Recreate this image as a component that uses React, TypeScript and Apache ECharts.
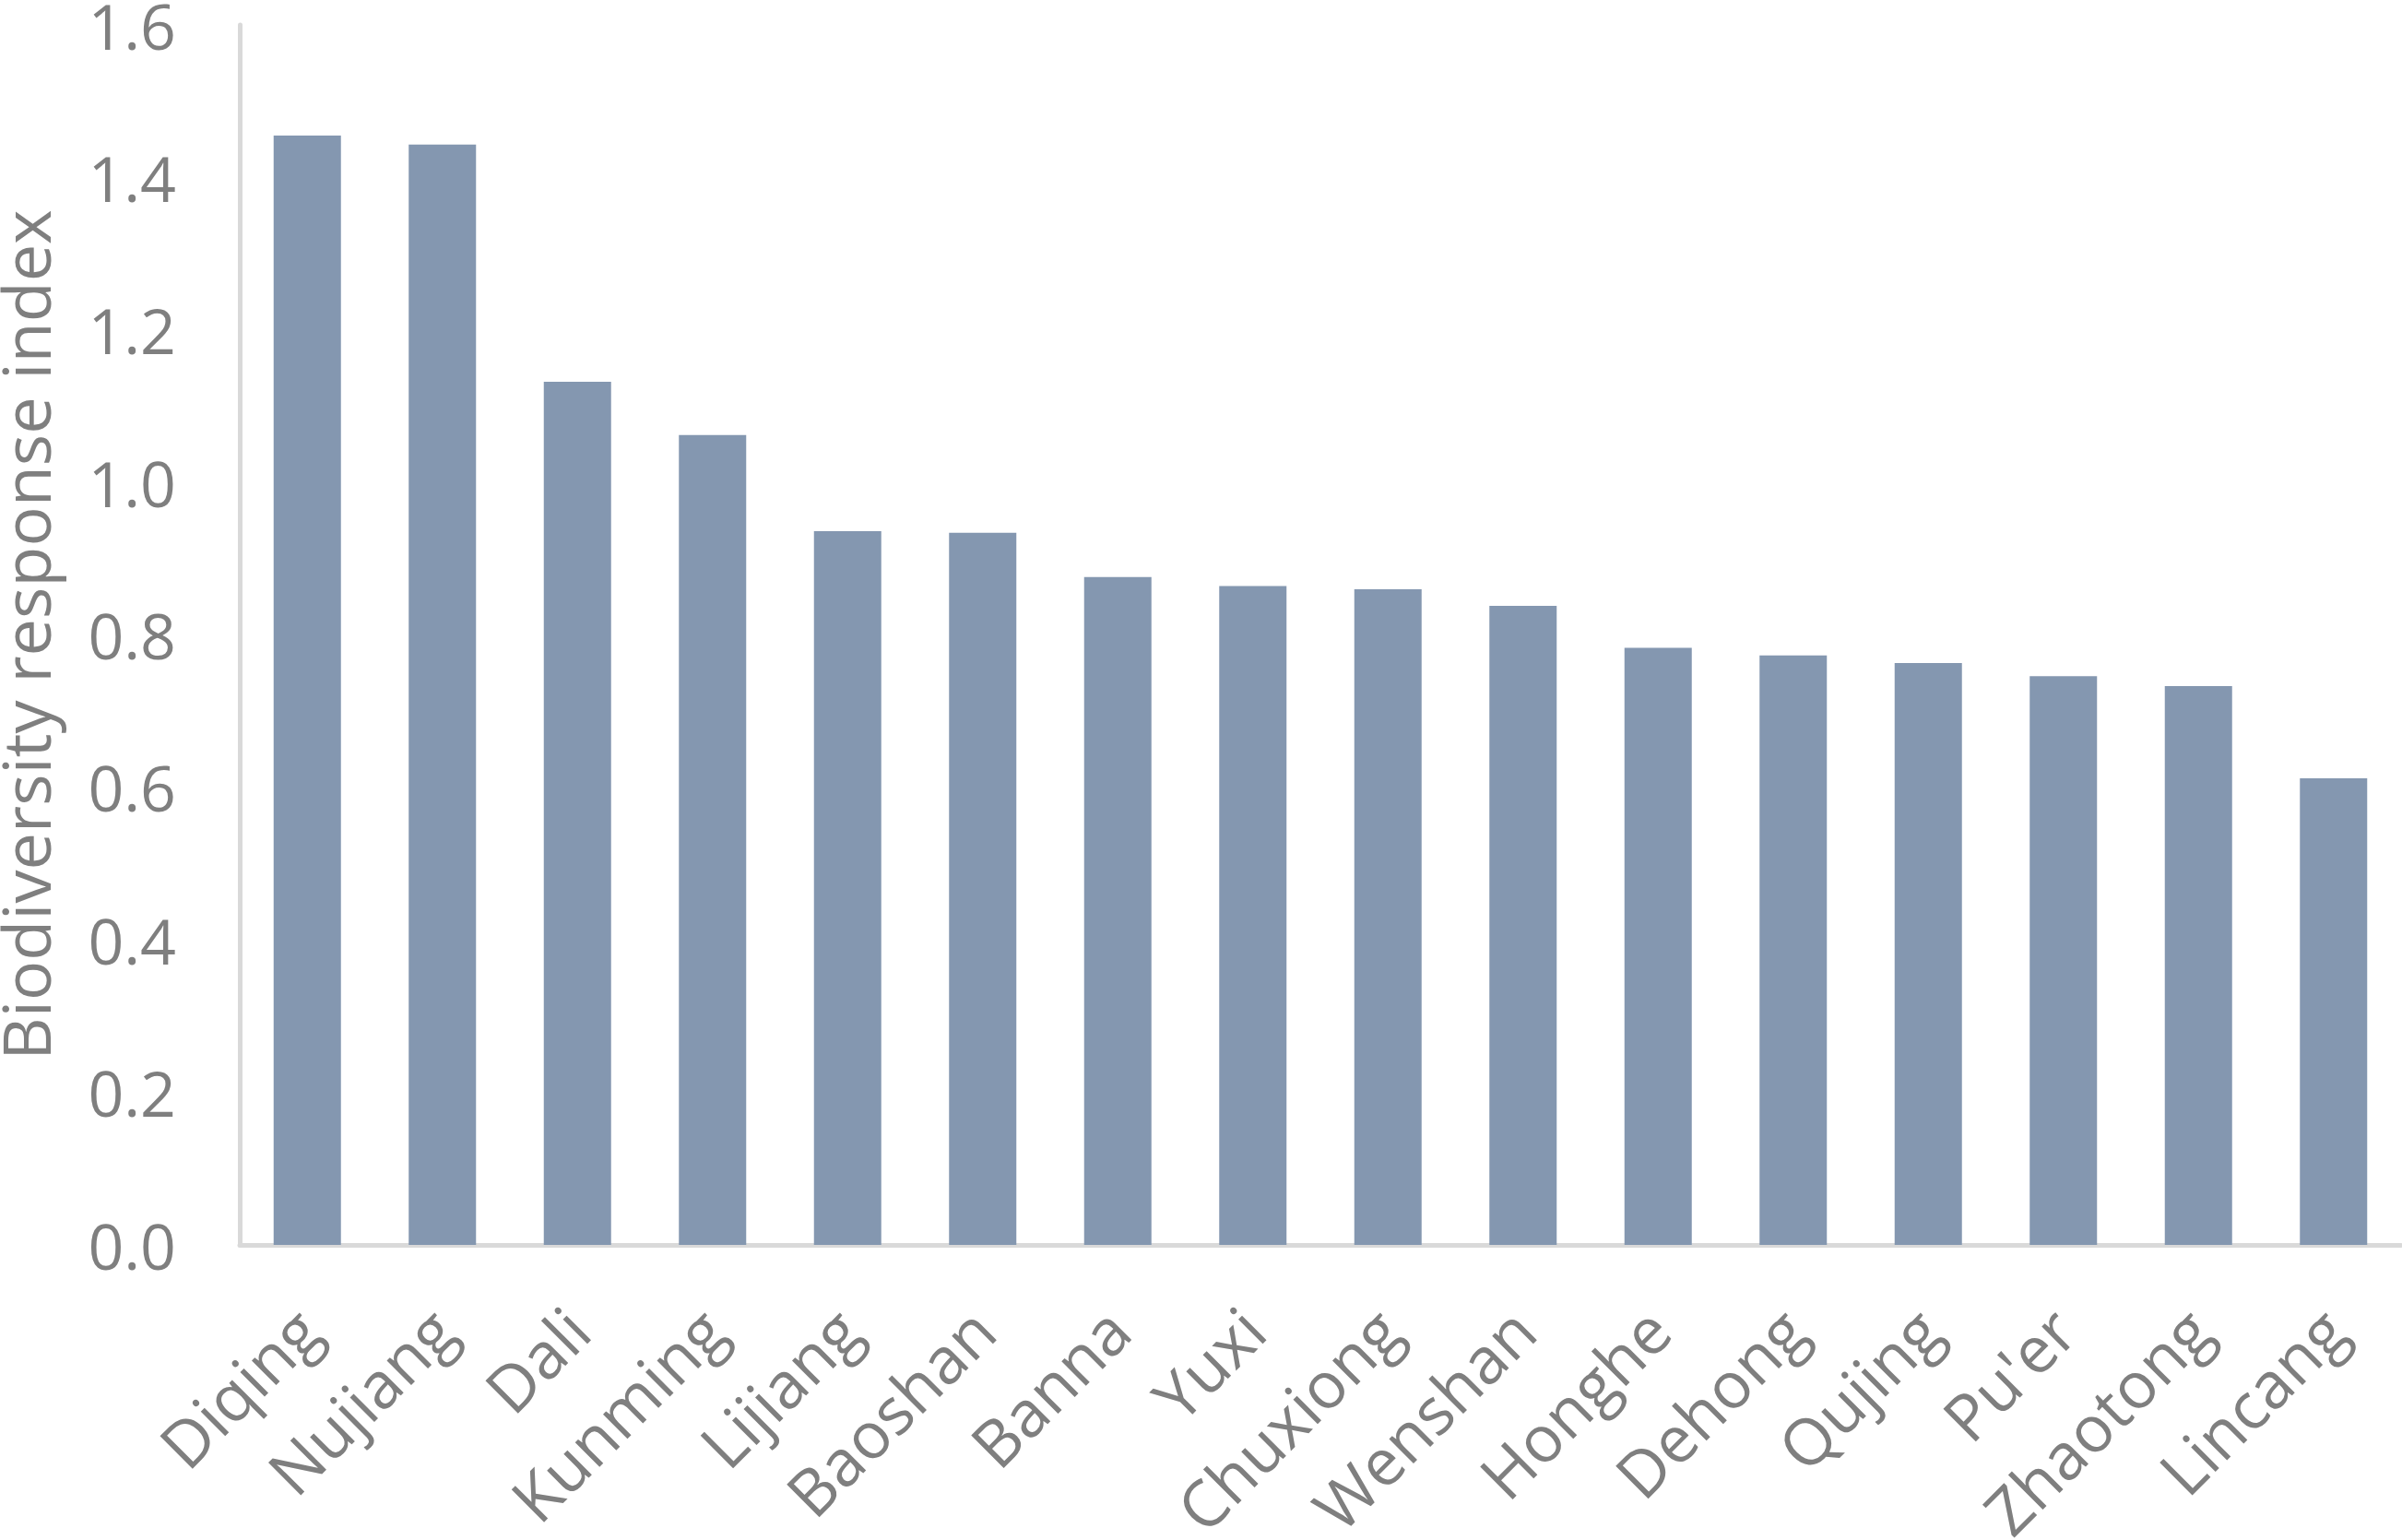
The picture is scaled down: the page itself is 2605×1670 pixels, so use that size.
import React, { useEffect, useRef } from "react";
import * as echarts from "echarts";

const categories = [
  "Diqing", "Nujiang", "Dali", "Kunming", "Lijiang", "Baoshan", "Banna", "Yuxi",
  "Chuxiong", "Wenshan", "Honghe", "Dehong", "Qujing", "Pu'er", "Zhaotong", "Lincang",
];
const values = [
  1.455, 1.443, 1.132, 1.062, 0.936, 0.934, 0.876, 0.864,
  0.860, 0.838, 0.783, 0.773, 0.763, 0.746, 0.733, 0.612,
];
const yTicks = { min: 0, max: 1.6, interval: 0.2 };
const yTitle = "Biodiversity response index";

export default function App() {
  const ref = useRef<HTMLDivElement>(null);
  useEffect(() => {
    if (!ref.current) return;
    const chart = echarts.init(ref.current, null, { renderer: "svg" });
    const font = "'Open Sans', 'Noto Sans', sans-serif";
    chart.setOption({
      animation: false,
      backgroundColor: "#ffffff",
      grid: {
        left: 260,
        right: 1,
        top: 27,
        bottom: 320,
        containLabel: false,
        outerBoundsMode: "none",
      },
      xAxis: {
        type: "category",
        data: categories,
        offset: 3,
        axisLine: { show: true, lineStyle: { color: "#d9d9d9", width: 5 } },
        axisTick: { show: false },
        axisLabel: {
          interval: 0,
          rotate: 45,
          margin: 77,
          fontSize: 70,
          color: "#7f7f7f",
          fontFamily: font,
        },
      },
      yAxis: {
        type: "value",
        min: yTicks.min,
        max: yTicks.max,
        interval: yTicks.interval,
        name: yTitle,
        nameLocation: "middle",
        nameGap: 197,
        nameTextStyle: { fontSize: 72, color: "#7f7f7f", fontFamily: font },
        axisLine: { show: true, lineStyle: { color: "#d9d9d9", width: 5 } },
        axisTick: { show: false },
        splitLine: { show: false },
        axisLabel: {
          margin: 69,
          fontSize: 68,
          color: "#7f7f7f",
          fontFamily: font,
          formatter: (v: number) => v.toFixed(1),
        },
      },
      series: [
        {
          type: "bar",
          data: values,
          barWidth: 73,
          itemStyle: { color: "#8497b0" },
        },
      ],
    });
    return () => chart.dispose();
  }, []);
  return (
    <div
      ref={ref}
      style={{ position: "absolute", left: 0, top: 0, width: 2605, height: 1670 }}
    />
  );
}
